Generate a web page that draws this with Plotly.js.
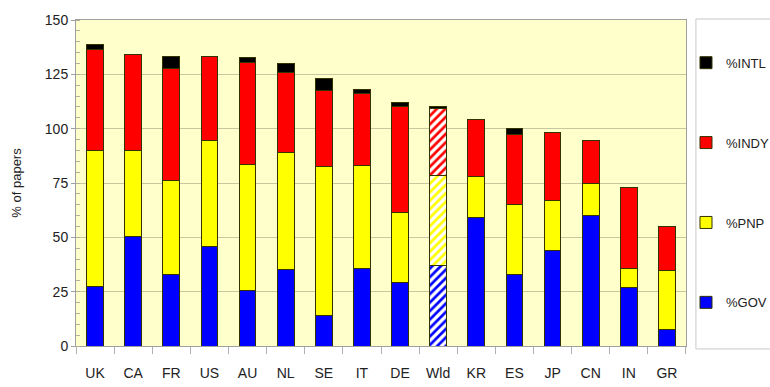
<!DOCTYPE html>
<html>
<head>
<meta charset="utf-8">
<script src="https://cdn.plot.ly/plotly-3.0.1.min.js"></script>
<style>html,body{margin:0;padding:0;background:#fff;}#chart{width:770px;height:387px;}</style>
</head>
<body>
<div id="chart"></div>
<script>
const countries = ["UK","CA","FR","US","AU","NL","SE","IT","DE","Wld","KR","ES","JP","CN","IN","GR"];
const gov  = [27.2, 50.2, 33.0, 45.6, 25.7, 35.2, 14.1, 35.7, 29.0, 37.2, 59.1, 33.0, 43.8, 60.2, 26.9, 7.5];
const pnp  = [62.9, 39.9, 43.0, 48.8, 58.0, 53.9, 68.4, 47.5, 32.4, 41.1, 18.7, 32.3, 23.3, 14.6, 8.8, 27.4];
const indy = [46.1, 43.9, 51.8, 38.7, 46.7, 36.6, 35.0, 33.1, 48.7, 30.9, 26.2, 31.8, 31.2, 19.9, 37.1, 20.2];
const intl = [2.4, 0, 5.3, 0, 2.3, 4.4, 5.5, 1.8, 1.9, 1.2, 0, 3.0, 0, 0, 0, 0];
const seriesNames = ["%GOV","%PNP","%INDY","%INTL"];
const seriesColors = ["#0000ff","#ffff00","#ff0000","#000000"];
const hatched = "Wld";

const values = [gov, pnp, indy, intl];
const traces = values.map((v, i) => {
  const col = seriesColors[i];
  const isH = c => c === hatched && i < 3;
  return {
    type: "bar",
    name: seriesNames[i],
    legendgroup: "g" + i,
    legendrank: 4 - i,
    x: countries,
    y: v,
    marker: {
      color: col,
      line: {color: "#333300", width: 1},
      pattern: {
        shape: countries.map(c => isH(c) ? "/" : ""),
        fgcolor: col,
        bgcolor: countries.map(c => isH(c) ? "#ffffff" : col),
        fgopacity: 1,
        size: 6,
        solidity: 0.45,
        fillmode: "replace"
      }
    },
    hoverinfo: "x+y+name"
  };
});

const layout = {
  width: 770, height: 387,
  margin: {l: 76, r: 82, t: 20, b: 41},
  paper_bgcolor: "#ffffff",
  plot_bgcolor: "#ffffcc",
  barmode: "stack",
  bargap: 0.56,
  font: {family: "Liberation Sans, Arial, sans-serif", color: "#222222", size: 14},
  xaxis: {
    type: "category",
    showline: true, linecolor: "#a0a0a0", linewidth: 1, mirror: true,
    ticks: "outside", tickson: "boundaries", ticklen: 7, tickcolor: "#b0b0b0",
    ticklabelstandoff: 14,
    tickfont: {size: 14, color: "#222"},
    showgrid: false, zeroline: false
  },
  yaxis: {
    range: [0, 150],
    tickvals: [0, 25, 50, 75, 100, 125, 150],
    showline: true, linecolor: "#a0a0a0", linewidth: 1, mirror: true,
    ticks: "outside", ticklen: 4, tickcolor: "#a0a0a0",
    showgrid: true, gridcolor: "#c8c8a0", gridwidth: 1,
    zeroline: false,
    minor: {dtick: 5, ticks: "inside", ticklen: 4, tickcolor: "#b0b0a0", showgrid: false},
    tickfont: {size: 14, color: "#222"},
    title: {text: "% of papers", font: {size: 13, color: "#222"}, standoff: 20}
  },
  showlegend: true,
  legend: {
    xref: "container", yref: "container",
    x: 0.8909, xanchor: "left",
    y: 0.8767, yanchor: "top",
    traceorder: "grouped",
    tracegroupgap: 60,
    maxheight: 380,
    bgcolor: "rgba(0,0,0,0)",
    borderwidth: 0,
    font: {size: 13, color: "#222"},
    itemwidth: 30
  },
  shapes: [{
    type: "rect", xref: "paper", yref: "paper",
    x0: 1.0163, x1: 1.2, y0: -0.009, y1: 1.003,
    line: {color: "#c8c8c8", width: 1}, fillcolor: "rgba(0,0,0,0)", layer: "below"
  }]
};

Plotly.newPlot("chart", traces, layout, {displayModeBar: false, staticPlot: true});
</script>
</body>
</html>
